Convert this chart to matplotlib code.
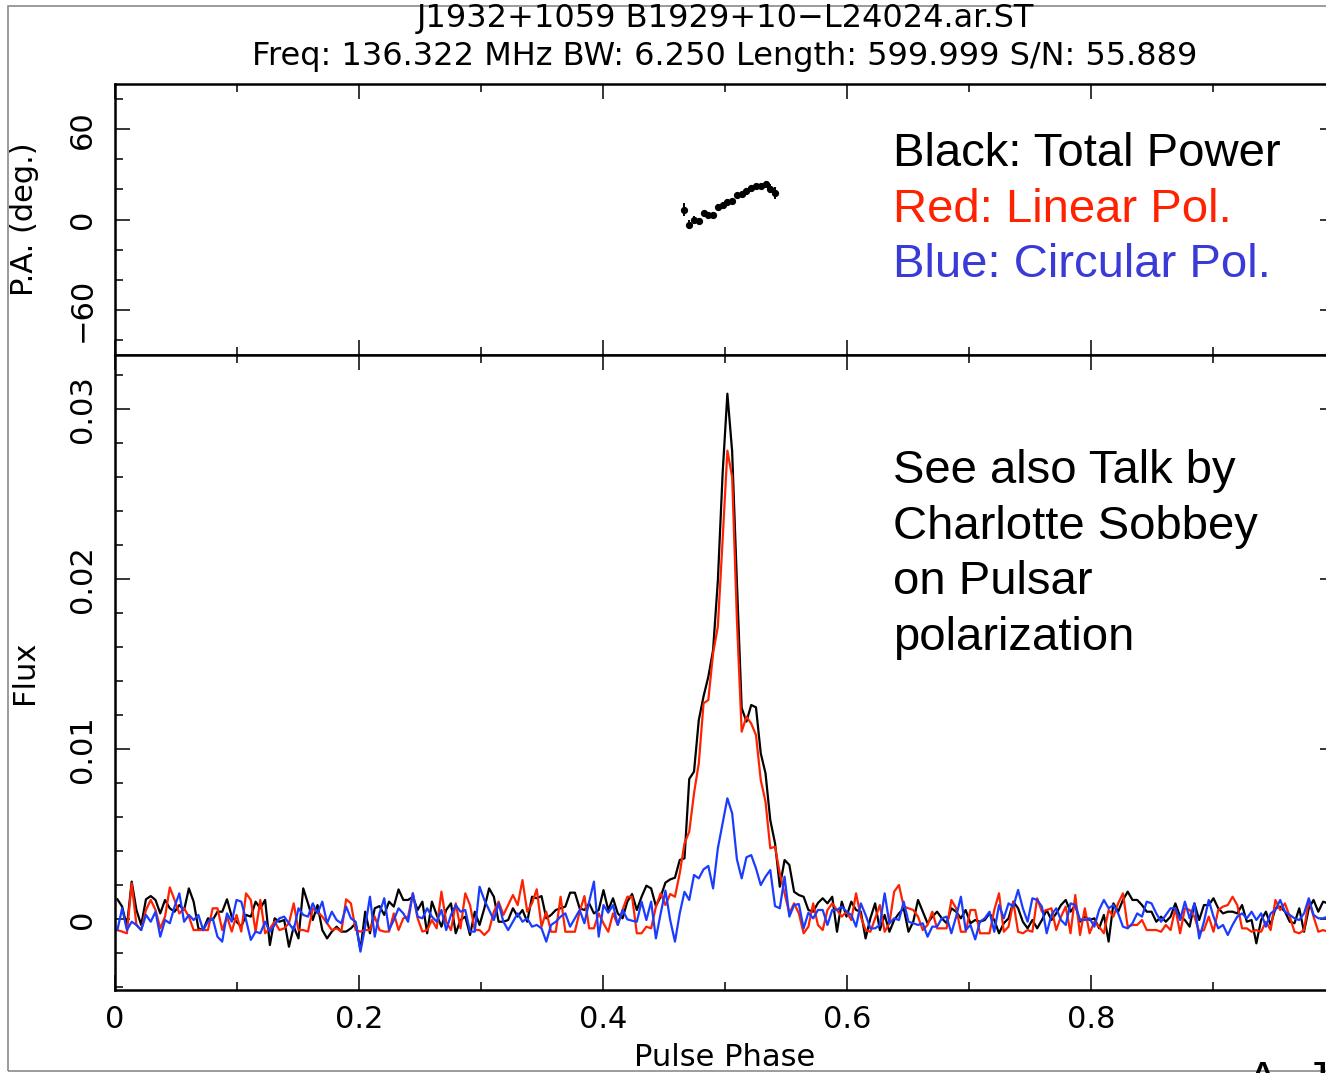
import numpy as np
import matplotlib
matplotlib.use("Agg")
import matplotlib.pyplot as plt
from matplotlib.patches import Rectangle
from matplotlib.ticker import FuncFormatter, MultipleLocator

# Stokes profiles, 256 phase bins, flux in units of 1e-4
total = np.array([
    11.6, 7.3, -4.5, 22.0, 5.3, -3.5, 11.6, 13.5, 11.2, 3.3,
    11.2, 6.3, 4.3, 8.2, 5.3, 18.0, 10.2, -5.5, -6.5, 0.4,
    -0.6, 4.3, 4.3, 11.6, 1.4, -1.6, -4.5, 2.4, 1.4, 10.2,
    6.3, 11.2, -15.3, 0.4, -1.6, -0.6, -16.3, -4.5, -11.4, 18.0,
    9.2, -0.6, 8.2, -6.5, -11.4, -7.4, -4.5, -7.4, -7.4, -5.5,
    -2.5, -18.2, 4.3, -8.4, 6.3, 7.6, 2.4, 10.2, 7.3, 17.4,
    11.2, 11.2, 13.1, 5.3, 10.2, -8.4, 10.2, 2.4, -4.5, 5.3,
    9.2, -8.4, -0.6, 1.4, -9.4, 4.3, -3.5, 6.3, 18.0, 13.1,
    -1.6, -1.6, -0.6, 6.3, 1.4, 5.3, -1.6, 13.1, 12.2, 13.5,
    0.4, 2.4, 5.3, 6.3, 7.3, 15.5, 15.5, 6.3, 5.3, 9.2,
    3.3, 5.3, 17.0, 5.3, 12.2, 3.3, 0.4, 10.2, 14.7, 5.3,
    13.1, 19.6, 18.0, 7.6, 13.1, 21.4, 23.3, 24.3, 34.7, 35.7,
    82.4, 86.7, 117.0, 131.0, 142.5, 158.2, 199.0, 262.0, 309.0, 275.0,
    198.0, 124.1, 116.1, 125.9, 124.5, 97.5, 85.7, 58.2, 44.5, 19.0,
    34.7, 31.8, 16.0, 14.1, 13.1, 5.3, 4.3, 9.4, 12.2, 9.2,
    13.1, -7.5, 10.2, 1.4, 10.2, 5.3, 4.3, -11.4, 0.4, 9.2,
    -6.5, 2.4, -7.5, -0.6, 3.3, 6.3, -7.5, -1.6, 11.2, 4.3,
    -2.5, 1.4, 4.3, 0.4, -2.5, 6.3, 4.3, 0.4, 5.3, -2.5,
    -0.6, -1.6, -0.6, 3.3, -0.6, -8.4, -2.5, 0.4, 10.2, 6.3,
    -1.6, -5.5, -0.6, -5.5, -0.6, 5.3, -0.6, 3.3, 8.2, 11.2,
    4.3, 8.2, -1.6, 1.4, -0.6, 0.4, -5.5, 2.4, -13.3, 9.2,
    4.3, 11.2, 16.1, 11.2, 11.2, 8.2, 4.3, 4.3, -1.6, 1.4,
    -1.6, 1.4, 9.2, 1.4, -0.6, -4.5, 9.2, -0.6, 8.2, 8.2,
    12.2, 6.3, 3.3, 4.3, 4.3, 3.3, 8.2, -1.6, -0.6, -14.3,
    -0.6, 4.3, -3.5, 6.3, 7.3, 4.3, -1.6, -2.5, 6.3, -7.5,
    6.3, 11.2, 4.3, 10.2, 9.2, 3.3,
])

linear = np.array([
    -6.5, -7.4, -8.4, 21.0, -3.5, -6.5, 5.3, 11.2, 5.3, -5.5,
    1.4, 18.6, 11.2, 3.3, 6.3, 1.4, -6.5, -6.5, -6.5, -6.5,
    6.3, 6.3, -6.5, 1.4, -7.4, 2.4, -7.4, 15.1, 11.2, -7.4,
    11.2, -8.4, -5.5, -1.6, -6.5, -5.5, -2.5, 9.2, -6.5, -6.5,
    -7.4, 6.3, 4.3, 1.4, -2.5, -6.5, -5.5, -7.4, 11.6, 9.2,
    -6.5, -7.4, -6.5, -6.5, 1.4, -6.5, -7.4, -7.4, 3.3, -6.5,
    0.4, 1.4, 15.1, 0.4, -7.4, -6.5, -0.6, -5.5, 16.1, -1.6,
    -6.5, 9.2, -5.5, 15.1, 8.2, -6.5, -6.5, -9.4, -6.5, 4.3,
    10.2, 2.4, 8.2, 14.1, 8.2, 22.9, 4.3, 9.2, 17.5, -4.5,
    4.3, -7.5, -7.5, 13.1, -7.5, -7.5, -7.5, 4.3, 13.5, -5.5,
    -5.5, 3.3, -2.5, -7.5, 3.3, -3.5, 5.3, 13.1, 13.1, -8.4,
    -8.4, -4.5, -5.5, 7.2, 15.1, 8.2, 14.7, 13.1, 26.9, 44.5,
    51.4, 74.0, 91.6, 126.9, 128.8, 156.3, 172.0, 223.0, 275.5, 260.0,
    176.0, 110.2, 119.0, 115.0, 108.2, 81.8, 69.0, 41.6, 42.5, 26.9,
    15.1, 3.3, 9.2, 3.3, -8.4, -4.5, 9.2, -3.5, -6.5, 5.3,
    9.2, 5.3, 1.4, 4.3, -0.6, 15.1, 1.4, -6.5, -7.5, 0.4,
    8.2, -7.5, -2.5, 16.1, 20.0, 7.3, 6.3, 5.3, 1.4, -6.5,
    -3.5, 4.3, -5.5, -5.5, -5.5, 11.2, 6.3, -7.5, -7.5, 5.3,
    5.3, -8.4, -8.4, -8.4, 5.3, 15.1, -7.5, -4.5, 10.2, -7.5,
    -8.4, -6.5, -7.5, 12.2, 4.3, 5.3, 6.3, -6.5, 1.4, 7.3,
    -8.4, 14.1, -9.4, 6.3, -8.4, -1.6, -4.5, -8.4, 5.3, 1.4,
    9.2, 15.1, -4.5, -3.5, -3.5, -0.6, -6.5, -6.5, -6.5, -7.5,
    -3.5, -6.5, 6.3, -8.4, 6.3, 5.3, 1.4, -7.5, -6.5, 1.4,
    -7.5, 5.3, 7.3, 8.2, 13.1, 8.2, -5.5, -5.5, -7.5, -6.5,
    -7.5, -1.6, -6.5, 11.2, 5.3, 9.2, 1.4, -7.5, -8.4, -6.5,
    11.2, 1.4, -7.5, -6.5, -7.5, 1.4,
])

circular = np.array([
    -6.5, 6.3, -6.5, -1.6, -3.5, -6.5, 2.4, -1.6, 4.3, -10.4,
    -0.6, -2.5, 7.3, 15.1, -1.6, 2.4, -0.6, 2.4, -6.5, -1.6,
    0.4, -10.4, -13.3, 3.3, -1.6, 11.2, 10.2, -0.6, -12.3, -7.4,
    -8.4, -1.6, -7.4, -3.5, 0.4, 1.4, -2.5, -6.5, 6.3, 2.4,
    1.4, 9.2, 3.3, 10.2, -2.5, 4.3, -0.6, -2.5, 7.3, 0.4,
    -1.6, -19.2, -4.5, 13.1, -10.4, 3.3, 12.2, -6.5, -0.6, 6.3,
    3.3, -1.6, 15.1, 1.4, 0.4, 6.3, 1.4, -1.6, 5.3, -6.5,
    2.4, 8.2, 4.3, 5.3, -7.4, -7.4, 19.0, 11.2, 5.3, -0.6,
    9.2, -1.6, -6.5, -1.6, 3.3, -1.6, 0.4, -4.5, -3.5, -5.5,
    -13.3, -3.5, -1.6, 1.4, 3.3, -4.5, 0.4, 5.3, -2.5, 10.2,
    22.0, -10.4, 8.2, 3.7, 8.2, -3.5, 5.3, -0.2, -1.0, -1.6,
    10.2, -0.6, 10.2, -11.4, 3.3, 16.7, -0.6, -13.3, 3.3, 16.0,
    11.2, 25.9, 23.9, 29.2, 31.2, 18.0, 41.6, 56.3, 71.0, 62.2,
    35.1, 23.9, 36.3, 37.6, 29.8, 20.0, 24.9, 28.8, 7.6, 6.3,
    24.9, 1.4, 8.2, 8.8, -5.5, 3.7, 0.4, 5.3, 5.3, -3.5,
    5.3, 5.3, 7.3, 4.3, 2.4, -4.5, 9.2, 2.4, -5.5, -5.5,
    -3.5, 15.1, -2.5, 0.4, -0.6, 10.2, -1.6, -2.5, -3.5, -2.5,
    -10.4, -4.5, -4.5, 0.4, 1.4, -8.4, 1.4, 13.1, -6.5, -3.5,
    -12.0, -1.6, 0.4, 4.3, -7.5, 8.2, 0.4, 9.2, 7.3, 17.1,
    6.3, -1.6, 12.2, 11.2, 7.3, -8.4, 2.4, 6.3, -0.6, -3.5,
    9.2, 8.2, -0.6, -0.6, 0.4, -4.5, 5.3, 11.2, 6.3, 8.2,
    3.3, -4.5, -5.5, -2.5, 3.3, 1.4, 10.2, 9.2, 3.3, -1.6,
    2.4, 6.3, 6.3, -0.6, 10.2, 0.4, 9.2, -11.4, -1.6, 11.2,
    1.4, -5.5, -3.5, -9.4, -3.5, 1.4, 3.3, 0.4, 4.3, -0.6,
    3.3, -4.5, 3.3, 5.3, 11.2, 4.3, 2.4, 0.4, -0.6, 3.3,
    12.2, 2.4, 0.4, 0.4, 1.4, 2.4,
])

# position angle where linear pol. is significant
pa_bins = np.arange(119, 139)
pa_deg = [6.6, -3.5, -0.2, -1.3, 4.4, 2.7, 3.3, 8.6, 9.7, 11.9,
          12.4, 16.6, 17.0, 18.8, 21.0, 22.1, 22.5, 23.6, 20.3, 17.4]
pa_err = [4.5, 3.0, 2.5, 2.0, 2.0, 1.5, 1.5, 1.5, 1.5, 1.5,
          1.5, 1.5, 1.5, 1.5, 1.5, 1.5, 1.5, 2.0, 3.0, 4.0]

title_1 = "J1932+1059 B1929+10\u2212L24024.ar.ST"
title_2 = "Freq: 136.322 MHz BW: 6.250 Length: 599.999 S/N: 55.889"

assert len(total) == len(linear) == len(circular) == 256

W, H = 1326, 1073
fig = plt.figure(figsize=(W / 100, H / 100), dpi=100)


def box(x0, y0, x1, y1):
    return [x0 / W, 1 - y1 / H, (x1 - x0) / W, (y1 - y0) / H]


def fx(x):
    return x / W


def fy(y):
    return 1 - y / H


ax_pa = fig.add_axes(box(115, 84, 1335, 355))
ax_fl = fig.add_axes(box(115, 355, 1335, 990))

phase = (np.arange(len(total)) + 0.5) / len(total)
ax_fl.plot(phase, total * 1e-4, color="black", lw=1.6)
ax_fl.plot(phase, linear * 1e-4, color="#ff2200", lw=1.6)
ax_fl.plot(phase, circular * 1e-4, color="#1a3cff", lw=1.6)

ax_pa.errorbar(phase[pa_bins], pa_deg, yerr=pa_err, fmt="o", color="black",
               ms=4.2, elinewidth=1.4, capsize=0)

fmt = FuncFormatter(lambda v, pos: f"{v:g}".replace("-", "\u2212"))
# the page is trimmed just short of phase 1, so that label is left out
fmt_phase = FuncFormatter(lambda v, pos: "" if v > 0.99 else f"{v:g}")

for ax in (ax_pa, ax_fl):
    ax.set_xlim(0, 1)
    ax.xaxis.set_major_locator(MultipleLocator(0.2))
    ax.xaxis.set_minor_locator(MultipleLocator(0.1))
    ax.xaxis.set_major_formatter(fmt_phase)
    ax.yaxis.set_major_formatter(fmt)
    ax.tick_params(which="both", direction="in", top=True, right=True,
                   width=1.1, labelsize=22, colors="black")
    ax.tick_params(which="major", length=11)
    ax.tick_params(which="minor", length=6)
    ax.tick_params(axis="x", pad=11)
    ax.tick_params(axis="y", pad=13, labelrotation=90)
    for s in ax.spines.values():
        s.set_linewidth(1.8)

ax_pa.set_ylim(-90, 90)
ax_pa.yaxis.set_major_locator(MultipleLocator(60))
ax_pa.yaxis.set_minor_locator(MultipleLocator(20))
ax_pa.tick_params(labelbottom=False)

ax_fl.set_ylim(-0.004176, 0.033176)
ax_fl.yaxis.set_major_locator(MultipleLocator(0.01))
ax_fl.yaxis.set_minor_locator(MultipleLocator(0.002))

for ax in (ax_pa, ax_fl):
    for t in ax.get_yticklabels():
        t.set_verticalalignment("center")

# outer frame of the plot page
fig.add_artist(Rectangle((fx(8), fy(1071)), fx(1500), (1071 - 6) / H,
                         transform=fig.transFigure, fill=False,
                         ec="#8a8a8a", lw=1.2))

fig.text(fx(725), fy(18), title_1, ha="center", va="center", fontsize=23)
fig.text(fx(725), fy(57), title_2, ha="center", va="center", fontsize=23)
fig.text(fx(25), fy(219), "P.A. (deg.)", rotation=90, ha="center", va="center", fontsize=22)
fig.text(fx(25), fy(672), "Flux", rotation=90, ha="center", va="center", fontsize=22)
fig.text(fx(725), fy(1058), "Pulse Phase", ha="center", va="center", fontsize=22)

arial = ["Liberation Sans", "DejaVu Sans"]
notes = [
    ("Black: Total Power", 166, "black"),
    ("Red: Linear Pol.", 222, "#ff2200"),
    ("Blue: Circular Pol.", 277, "#3a3ad6"),
    ("See also Talk by", 483, "black"),
    ("Charlotte Sobbey", 539, "black"),
    ("on Pulsar", 594, "black"),
    ("polarization", 650, "black"),
]
for text, base, col in notes:
    fig.text(fx(893), fy(base), text, ha="left", va="baseline",
             fontsize=34, color=col, family=arial)

fig.text(fx(1247), fy(1094), "A. J", ha="left", va="baseline",
         fontsize=34, color="black", family=arial)

fig.savefig("out.png", dpi=100)
